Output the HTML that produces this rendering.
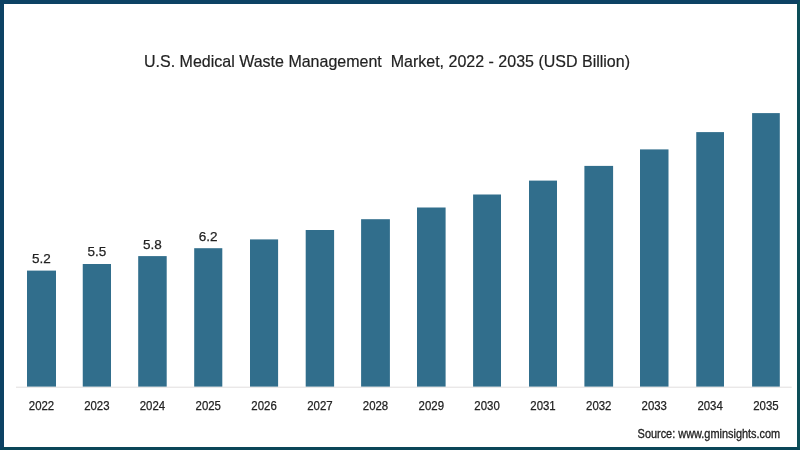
<!DOCTYPE html>
<html><head><meta charset="utf-8"><style>
html,body{margin:0;padding:0;background:#fff;}
#wrap{position:relative;width:800px;height:450px;overflow:hidden;box-sizing:border-box;border-style:solid;border-width:4px 3px 3px 4px;border-color:#0d4264 #0c4e58 #0a4658 #0d4264;background:#fff;}
svg{position:absolute;left:-4px;top:-4px;will-change:transform;}
text{font-family:"Liberation Sans",sans-serif;fill:#222;}
.yr{font-size:12px;text-anchor:middle;stroke:#222;stroke-width:0.25px;}
.val{font-size:13.5px;text-anchor:middle;stroke:#222;stroke-width:0.25px;}
</style></head><body>
<div id="wrap">
<svg width="800" height="450" viewBox="0 0 800 450">
<text x="144" y="67" font-size="17" textLength="486" lengthAdjust="spacingAndGlyphs" stroke="#222" stroke-width="0.2" style="white-space:pre">U.S. Medical Waste Management  Market, 2022 - 2035 (USD Billion)</text>
<rect x="16" y="386.7" width="775.7" height="1" fill="#e2dfdf"/>
<rect x="27" y="270.6" width="29.00" height="116.00" fill="#316e8c"/>
<text x="41.50" y="409.9" class="yr" textLength="25.4" lengthAdjust="spacingAndGlyphs">2022</text>
<text x="41.50" y="263.00" class="val">5.2</text>
<rect x="82.75" y="264" width="28.25" height="122.60" fill="#316e8c"/>
<text x="96.88" y="409.9" class="yr" textLength="25.4" lengthAdjust="spacingAndGlyphs">2023</text>
<text x="96.88" y="256.40" class="val">5.5</text>
<rect x="138.2" y="256.1" width="28.50" height="130.50" fill="#316e8c"/>
<text x="152.45" y="409.9" class="yr" textLength="25.4" lengthAdjust="spacingAndGlyphs">2024</text>
<text x="152.45" y="248.50" class="val">5.8</text>
<rect x="194.2" y="248.2" width="28.10" height="138.40" fill="#316e8c"/>
<text x="208.25" y="409.9" class="yr" textLength="25.4" lengthAdjust="spacingAndGlyphs">2025</text>
<text x="208.25" y="240.60" class="val">6.2</text>
<rect x="250" y="239.4" width="28.10" height="147.20" fill="#316e8c"/>
<text x="264.05" y="409.9" class="yr" textLength="25.4" lengthAdjust="spacingAndGlyphs">2026</text>
<rect x="305.7" y="230.0" width="28.40" height="156.60" fill="#316e8c"/>
<text x="319.90" y="409.9" class="yr" textLength="25.4" lengthAdjust="spacingAndGlyphs">2027</text>
<rect x="361.1" y="219.2" width="28.80" height="167.40" fill="#316e8c"/>
<text x="375.50" y="409.9" class="yr" textLength="25.4" lengthAdjust="spacingAndGlyphs">2028</text>
<rect x="417" y="207.5" width="28.60" height="179.10" fill="#316e8c"/>
<text x="431.30" y="409.9" class="yr" textLength="25.4" lengthAdjust="spacingAndGlyphs">2029</text>
<rect x="473.1" y="194.5" width="27.90" height="192.10" fill="#316e8c"/>
<text x="487.05" y="409.9" class="yr" textLength="25.4" lengthAdjust="spacingAndGlyphs">2030</text>
<rect x="529" y="180.6" width="28.00" height="206.00" fill="#316e8c"/>
<text x="543.00" y="409.9" class="yr" textLength="25.4" lengthAdjust="spacingAndGlyphs">2031</text>
<rect x="584.4" y="165.9" width="28.70" height="220.70" fill="#316e8c"/>
<text x="598.75" y="409.9" class="yr" textLength="25.4" lengthAdjust="spacingAndGlyphs">2032</text>
<rect x="640" y="149.4" width="28.50" height="237.20" fill="#316e8c"/>
<text x="654.25" y="409.9" class="yr" textLength="25.4" lengthAdjust="spacingAndGlyphs">2033</text>
<rect x="696.25" y="132.1" width="27.75" height="254.50" fill="#316e8c"/>
<text x="710.12" y="409.9" class="yr" textLength="25.4" lengthAdjust="spacingAndGlyphs">2034</text>
<rect x="752.1" y="113.1" width="27.70" height="273.50" fill="#316e8c"/>
<text x="765.95" y="409.9" class="yr" textLength="25.4" lengthAdjust="spacingAndGlyphs">2035</text>
<text x="637.6" y="438.1" font-size="12" textLength="142.6" lengthAdjust="spacingAndGlyphs" fill="#222" stroke="#222" stroke-width="0.3">Source: www.gminsights.com</text>
</svg>
</div>
</body></html>
